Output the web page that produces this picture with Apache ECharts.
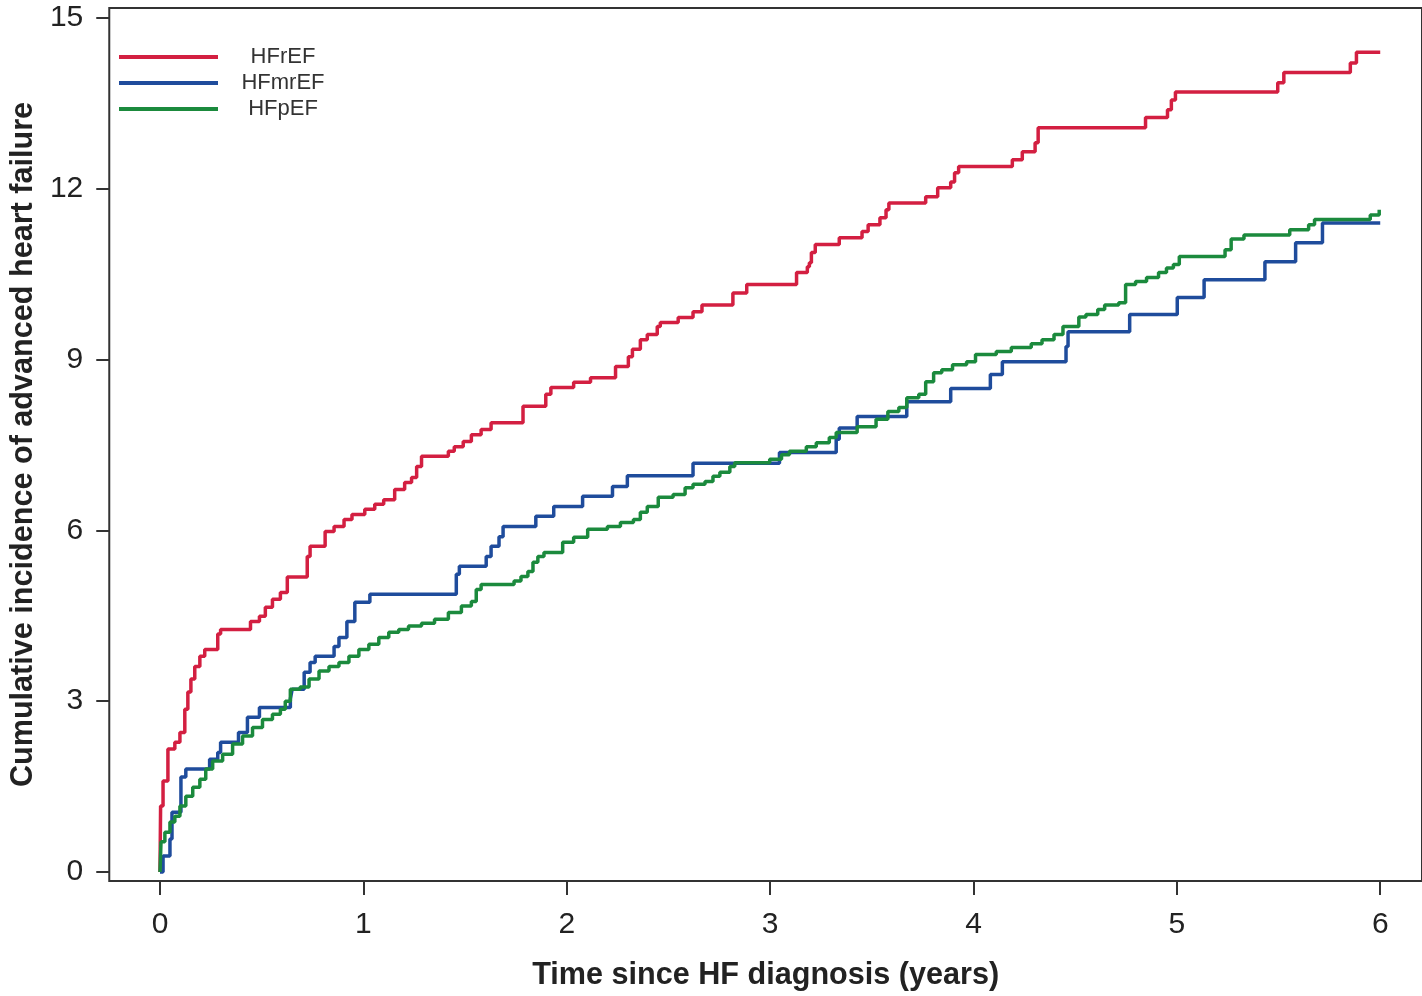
<!DOCTYPE html>
<html>
<head>
<meta charset="utf-8">
<title>Cumulative incidence of advanced heart failure</title>
<script src="https://cdn.jsdelivr.net/npm/echarts@6/dist/echarts.min.js"></script>
<style>
  html, body { margin: 0; padding: 0; background: #ffffff; }
  #chart { width: 1422px; height: 996px; }
</style>
</head>
<body>
<div id="chart"></div>
<script>
// Step-function estimates: time (years) of each jump and the level reached (%)
const hfrefTime = [0, 0.003, 0.015, 0.039, 0.073, 0.098, 0.122, 0.137, 0.152, 0.171, 0.196, 0.220, 0.284, 0.298,
  0.445, 0.489, 0.518, 0.553, 0.592, 0.626, 0.724, 0.738, 0.812, 0.856, 0.905, 0.944, 1.007, 1.056, 1.100,
  1.154, 1.203, 1.237, 1.262, 1.286, 1.418, 1.447, 1.491, 1.531, 1.579, 1.628, 1.785, 1.897, 1.922, 2.034,
  2.117, 2.240, 2.303, 2.323, 2.362, 2.396, 2.445, 2.460, 2.548, 2.621, 2.665, 2.817, 2.885, 3.130, 3.183,
  3.193, 3.203, 3.222, 3.340, 3.452, 3.482, 3.540, 3.570, 3.584, 3.765, 3.824, 3.888, 3.907, 3.927, 4.191,
  4.240, 4.303, 4.318, 4.846, 4.954, 4.973, 4.993, 5.496, 5.526, 5.853, 5.883, 6.0];
const hfrefValue = [0, 1.16, 1.60, 2.16, 2.28, 2.45, 2.86, 3.16, 3.39, 3.61, 3.79, 3.91, 4.18, 4.26,
  4.40, 4.49, 4.65, 4.79, 4.91, 5.18, 5.54, 5.72, 5.98, 6.07, 6.19, 6.28, 6.37, 6.46, 6.54,
  6.72, 6.84, 6.93, 7.12, 7.30, 7.39, 7.47, 7.56, 7.68, 7.77, 7.89, 8.18, 8.39, 8.51, 8.60,
  8.68, 8.88, 9.05, 9.18, 9.35, 9.44, 9.58, 9.65, 9.74, 9.84, 9.96, 10.17, 10.32, 10.53, 10.63,
  10.70, 10.88, 11.02, 11.14, 11.25, 11.37, 11.49, 11.63, 11.75, 11.86, 12.02, 12.12, 12.28, 12.39, 12.51,
  12.65, 12.81, 13.07, 13.25, 13.39, 13.56, 13.70, 13.86, 14.04, 14.21, 14.40, 14.40];

const hfmrefTime = [0, 0.015, 0.049, 0.059, 0.103, 0.127, 0.244, 0.284, 0.298, 0.386, 0.430, 0.489, 0.641,
  0.650, 0.709, 0.738, 0.763, 0.856, 0.880, 0.919, 0.958, 1.032, 1.457, 1.472, 1.604, 1.628, 1.667, 1.687,
  1.848, 1.936, 2.078, 2.225, 2.298, 2.621, 3.046, 3.325, 3.340, 3.428, 3.672, 3.888, 4.083, 4.142, 4.455,
  4.465, 4.768, 5.002, 5.134, 5.433, 5.584, 5.716, 6.0];
const hfmrefValue = [0, 0.28, 0.58, 1.05, 1.67, 1.81, 1.98, 2.10, 2.28, 2.45, 2.72, 2.89, 3.04,
  3.21, 3.51, 3.68, 3.79, 3.96, 4.12, 4.40, 4.74, 4.88, 5.23, 5.37, 5.54, 5.72, 5.89, 6.07,
  6.25, 6.42, 6.60, 6.77, 6.96, 7.18, 7.37, 7.60, 7.80, 8.00, 8.26, 8.49, 8.74, 8.96, 9.23,
  9.49, 9.79, 10.09, 10.40, 10.72, 11.05, 11.40, 11.40];

const hfpefTime = [0, 0.005, 0.024, 0.049, 0.073, 0.098, 0.127, 0.161, 0.196, 0.225, 0.259, 0.308, 0.357,
  0.406, 0.455, 0.504, 0.553, 0.592, 0.616, 0.641, 0.689, 0.733, 0.782, 0.831, 0.880, 0.929, 0.978, 1.027,
  1.076, 1.125, 1.174, 1.222, 1.286, 1.350, 1.418, 1.482, 1.531, 1.555, 1.579, 1.741, 1.775, 1.809, 1.834,
  1.858, 1.888, 1.980, 2.034, 2.103, 2.200, 2.264, 2.328, 2.362, 2.396, 2.450, 2.523, 2.582, 2.621, 2.680,
  2.719, 2.753, 2.802, 2.826, 2.998, 3.056, 3.095, 3.178, 3.227, 3.291, 3.325, 3.428, 3.521, 3.579, 3.633,
  3.672, 3.731, 3.765, 3.804, 3.844, 3.897, 3.966, 4.010, 4.112, 4.186, 4.284, 4.337, 4.396, 4.440, 4.518,
  4.553, 4.611, 4.645, 4.714, 4.748, 4.797, 4.851, 4.910, 4.949, 4.983, 5.012, 5.237, 5.267, 5.330, 5.555,
  5.648, 5.677, 5.951, 5.995];
const hfpefValue = [0, 0.53, 0.70, 0.88, 0.98, 1.16, 1.33, 1.49, 1.63, 1.81, 1.95, 2.07, 2.25,
  2.39, 2.54, 2.68, 2.77, 2.86, 3.00, 3.21, 3.25, 3.39, 3.53, 3.61, 3.68, 3.79, 3.91, 4.00,
  4.12, 4.21, 4.26, 4.32, 4.37, 4.44, 4.56, 4.67, 4.75, 4.96, 5.05, 5.11, 5.19, 5.28, 5.44,
  5.54, 5.61, 5.79, 5.88, 6.02, 6.07, 6.14, 6.19, 6.32, 6.42, 6.58, 6.63, 6.75, 6.81, 6.86,
  6.95, 7.02, 7.12, 7.19, 7.25, 7.33, 7.39, 7.47, 7.54, 7.63, 7.72, 7.82, 7.95, 8.09, 8.16,
  8.33, 8.39, 8.61, 8.77, 8.82, 8.91, 8.96, 9.09, 9.14, 9.21, 9.28, 9.35, 9.44, 9.58, 9.75,
  9.79, 9.88, 9.96, 10.00, 10.32, 10.37, 10.44, 10.53, 10.61, 10.67, 10.81, 10.93, 11.12, 11.19, 11.28,
  11.37, 11.46, 11.54, 11.63];

const seriesNames = ['HFrEF', 'HFmrEF', 'HFpEF'];
const seriesColors = ['#d31f41', '#1f4c9c', '#1b8a3d'];
const xTicks = [0, 1, 2, 3, 4, 5, 6];
const yTicks = [0, 3, 6, 9, 12, 15];

const zip = (t, v) => t.map((x, i) => [x, v[i]]);
const curves = [zip(hfrefTime, hfrefValue), zip(hfmrefTime, hfmrefValue), zip(hfpefTime, hfpefValue)];

const FONT = '"Liberation Sans", Arial, Helvetica, sans-serif';
const INK = '#222222';
const FRAME = '#333333';

const chart = echarts.init(document.getElementById('chart'), null, { renderer: 'canvas' });

chart.setOption({
  backgroundColor: '#ffffff',
  animation: false,
  textStyle: { fontFamily: FONT },
  // plot frame runs past the right edge of the canvas, so only three sides show
  grid: {
    left: 106, top: 8, width: 1320, height: 874,
    show: true, borderColor: FRAME, borderWidth: 2, backgroundColor: 'transparent'
  },
  legend: {
    orient: 'vertical',
    left: 119, top: 44,
    padding: 0,
    itemGap: 0,
    itemWidth: 99,
    itemHeight: 4,
    icon: 'rect',
    data: seriesNames,
    formatter: '{c|{name}}',
    textStyle: {
      fontFamily: FONT,
      fontSize: 22,
      color: '#333333',
      lineHeight: 26,
      rich: { c: { width: 120, align: 'center', fontSize: 22, lineHeight: 26, color: '#333333', fontFamily: FONT } }
    }
  },
  xAxis: {
    type: 'value',
    min: -0.2494, max: 6.2054,
    name: 'Time since HF diagnosis (years)',
    nameLocation: 'middle',
    nameGap: 79,
    nameTextStyle: { fontFamily: FONT, fontSize: 30.6, fontWeight: 'bold', color: INK },
    axisLine: { show: false, onZero: false },
    splitLine: { show: false },
    axisTick: { show: true, customValues: xTicks, length: 14, inside: false, lineStyle: { color: FRAME, width: 2 } },
    axisLabel: { show: true, customValues: xTicks, margin: 29, fontSize: 30, color: INK, fontFamily: FONT }
  },
  yAxis: {
    type: 'value',
    min: -0.158, max: 15.175,
    name: 'Cumulative incidence of advanced heart failure',
    nameLocation: 'middle',
    nameGap: 60,
    nameRotate: 90,
    nameTextStyle: { fontFamily: FONT, fontSize: 30.6, fontWeight: 'bold', color: INK },
    axisLine: { show: false, onZero: false },
    splitLine: { show: false },
    axisTick: { show: true, customValues: yTicks, length: 13, inside: false, lineStyle: { color: FRAME, width: 2 } },
    axisLabel: { show: true, customValues: yTicks, margin: 26, fontSize: 30, color: INK, fontFamily: FONT }
  },
  series: curves.map((data, i) => ({
    name: seriesNames[i],
    type: 'line',
    step: 'end',
    data: data,
    showSymbol: false,
    symbol: 'none',
    color: seriesColors[i],
    lineStyle: { color: seriesColors[i], width: 3.5 },
    z: 2 + i
  }))
});
</script>
</body>
</html>
